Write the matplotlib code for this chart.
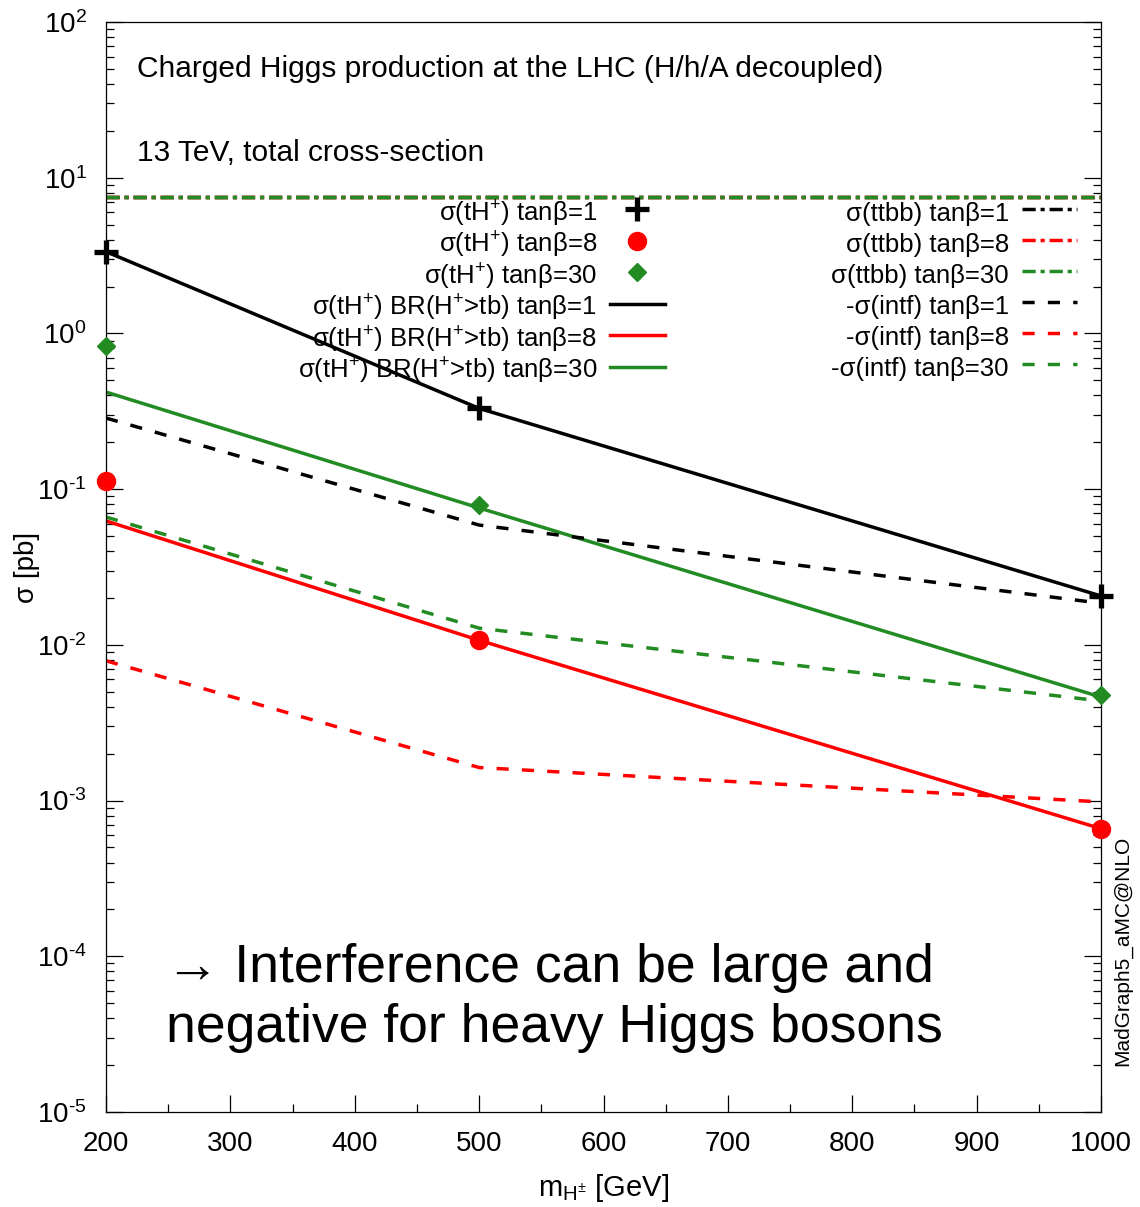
import matplotlib
matplotlib.use('Agg')
import matplotlib.pyplot as plt
from matplotlib.ticker import FixedLocator, FuncFormatter, NullFormatter
import numpy as np

plt.rcParams['font.family'] = ['Liberation Sans', 'DejaVu Sans']
plt.rcParams['mathtext.fontset'] = 'custom'
plt.rcParams['mathtext.rm'] = 'Liberation Sans'
plt.rcParams['mathtext.it'] = 'Liberation Sans:italic'
plt.rcParams['mathtext.bf'] = 'Liberation Sans:bold'
plt.rcParams['mathtext.sf'] = 'Liberation Sans'

# charged Higgs mass points [GeV]
mass = [200, 500, 1000]

# sigma(tH+) [pb]
th_tb1 = [3.35, 0.330, 0.0206]
th_tb8 = [0.112, 0.0107, 6.6e-4]
th_tb30 = [0.83, 0.079, 0.00476]

# sigma(tH+) x BR(H+ > tb) [pb]
br_tb1 = [3.35, 0.330, 0.0206]
br_tb8 = [0.0625, 0.0107, 6.6e-4]
br_tb30 = [0.42, 0.0757, 0.00462]

# sigma(ttbb) [pb]
ttbb_tb1 = [7.5, 7.5, 7.5]
ttbb_tb8 = [7.5, 7.5, 7.5]
ttbb_tb30 = [7.5, 7.5, 7.5]

# -sigma(interference) [pb]
intf_tb1 = [0.286, 0.0588, 0.0185]
intf_tb8 = [0.0079, 0.00163, 0.00098]
intf_tb30 = [0.0662, 0.0128, 0.00436]

GREEN = '#228b22'
RED = '#ff0000'
lw = 2.5
dashdot = (3.8, 1.4, 1.2, 1.4)
dashed = (3.5, 3.8)

fig = plt.figure(figsize=(11.4, 12.07), dpi=100)
ax = fig.add_axes([0.093, 0.0787, 0.8728, 0.9031])

p1, = ax.plot(mass, th_tb1, ls='none', marker='+', ms=17, mew=3.8, color='black',
              clip_on=False, zorder=5, label=r'σ(tH$^{+}$) tanβ=1')
p8, = ax.plot(mass, th_tb8, ls='none', marker='o', ms=13, color=RED, mec=RED,
              clip_on=False, zorder=5, label=r'σ(tH$^{+}$) tanβ=8')
p30, = ax.plot(mass, th_tb30, ls='none', marker='D', ms=9.5, color=GREEN, mec=GREEN,
               clip_on=False, zorder=5, label=r'σ(tH$^{+}$) tanβ=30')

b1, = ax.plot(mass, br_tb1, color='black', lw=lw, label=r'σ(tH$^{+}$) BR(H$^{+}$>tb) tanβ=1')
b8, = ax.plot(mass, br_tb8, color=RED, lw=lw, label=r'σ(tH$^{+}$) BR(H$^{+}$>tb) tanβ=8')
b30, = ax.plot(mass, br_tb30, color=GREEN, lw=lw, label=r'σ(tH$^{+}$) BR(H$^{+}$>tb) tanβ=30')

t1, = ax.plot(mass, ttbb_tb1, color='black', lw=lw, dashes=dashdot, label='σ(ttbb) tanβ=1')
t8, = ax.plot(mass, ttbb_tb8, color=RED, lw=lw, dashes=dashdot, label='σ(ttbb) tanβ=8')
t30, = ax.plot(mass, ttbb_tb30, color=GREEN, lw=lw, dashes=dashdot, label='σ(ttbb) tanβ=30')

i1, = ax.plot(mass, intf_tb1, color='black', lw=lw, dashes=dashed, label='-σ(intf) tanβ=1')
i8, = ax.plot(mass, intf_tb8, color=RED, lw=lw, dashes=dashed, label='-σ(intf) tanβ=8')
i30, = ax.plot(mass, intf_tb30, color=GREEN, lw=lw, dashes=dashed, label='-σ(intf) tanβ=30')

ax.set_yscale('log')
ax.set_xlim(200, 1000)
ax.set_ylim(1e-5, 1e2)

decades = np.arange(-5, 3)
ax.xaxis.set_major_locator(FixedLocator(np.arange(200, 1001, 100)))
ax.xaxis.set_minor_locator(FixedLocator(np.arange(250, 1000, 100)))
ax.yaxis.set_major_locator(FixedLocator(10.0 ** decades))
ax.yaxis.set_minor_locator(FixedLocator([m * 10.0 ** d for d in decades[:-1] for m in range(2, 10)]))
ax.yaxis.set_minor_formatter(NullFormatter())
ax.yaxis.set_major_formatter(FuncFormatter(
    lambda v, p: r'$\mathregular{10^{\text{%d}}}$' % round(np.log10(v))))

ax.tick_params(which='both', direction='in', top=False, right=True, width=0.9)
ax.tick_params(which='major', length=12)
ax.tick_params(which='minor', length=6)
ax.tick_params(axis='x', which='major', labelsize=20, pad=14)
ax.tick_params(axis='y', which='major', labelsize=20, pad=14)
for s in ax.spines.values():
    s.set_linewidth(0.9)

ax.set_xlabel(r'm$_{\mathregular{H^{\pm}}}$ [GeV]', fontsize=21)
ax.xaxis.set_label_coords(0.5, -0.055)
ax.set_ylabel('σ [pb]', fontsize=20)
ax.yaxis.set_label_coords(-0.066, 0.5)

ax.text(0.0312, 0.9495, 'Charged Higgs production at the LHC (H/h/A decoupled)',
        transform=ax.transAxes, fontsize=21.5, va='baseline', ha='left')
ax.text(0.0312, 0.8725, '13 TeV, total cross-section',
        transform=ax.transAxes, fontsize=21.5, va='baseline', ha='left')

ax.text(0.0603, 0.1193, '→ Interference can be large and',
        transform=ax.transAxes, fontsize=38.5, va='baseline', ha='left')
ax.text(0.0603, 0.0642, 'negative for heavy Higgs bosons',
        transform=ax.transAxes, fontsize=38.5, va='baseline', ha='left')

ax.text(1.022, 0.1477, 'MadGraph5_aMC@NLO', transform=ax.transAxes, rotation=90,
        fontsize=15, ha='center', va='center')

# row height is set by the handle box so both columns share the same pitch
leg_kw = dict(loc='upper right', frameon=False, markerfirst=False, fontsize=18.5,
              handlelength=2.15, handletextpad=0.5, handleheight=1.47, labelspacing=0.0,
              borderpad=0, borderaxespad=0, numpoints=1, bbox_transform=ax.transAxes)
leg1 = ax.legend(handles=[p1, p8, p30, b1, b8, b30], bbox_to_anchor=(0.5618, 0.839), **leg_kw)
ax.add_artist(leg1)
ax.legend(handles=[t1, t8, t30, i1, i8, i30], bbox_to_anchor=(0.9759, 0.839), **leg_kw)

fig.savefig('out.png', dpi=100)
